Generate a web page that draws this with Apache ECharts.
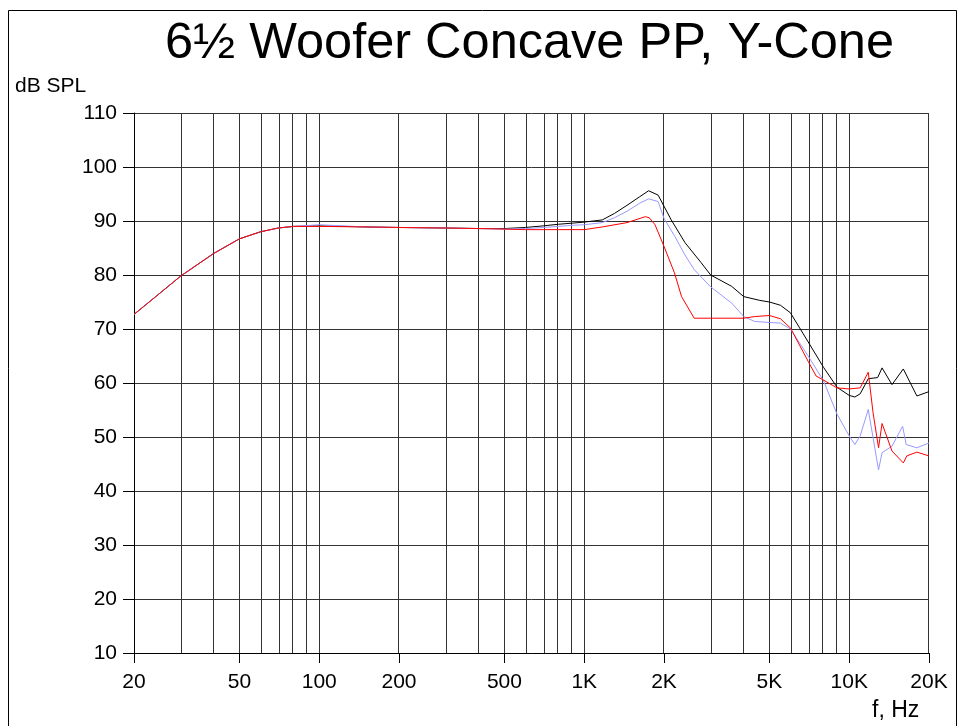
<!DOCTYPE html>
<html>
<head>
<meta charset="utf-8">
<script src="https://cdn.jsdelivr.net/npm/echarts@6/dist/echarts.min.js"></script>
<style>
  html, body { margin: 0; padding: 0; background: #fff; }
  #chart { width: 964px; height: 726px; }
</style>
</head>
<body>
<div id="chart"></div>
<script>
// frequencies in Hz, levels in dB SPL
const blackFreq = [20, 25, 30, 40, 50, 60, 70, 80, 100, 150, 200, 300, 400, 500, 600, 700, 800, 900, 1000, 1170, 1300, 1450, 1620, 1750, 1900, 2130, 2400, 2760, 3000, 3600, 4000, 4600, 5000, 5500, 6000, 6500, 7000, 8000, 9000, 10000, 10500, 11000, 11800, 12800, 13300, 14500, 16000, 18000, 20000];
const blackDb = [72.7, 76.6, 79.8, 84.0, 86.7, 88.0, 88.7, 89.0, 89.1, 88.9, 88.8, 88.7, 88.6, 88.6, 88.8, 89.1, 89.4, 89.6, 89.8, 90.2, 91.4, 92.9, 94.5, 95.6, 94.8, 90.2, 86.0, 82.3, 80.0, 77.9, 76.0, 75.3, 75.0, 74.4, 73.0, 70.2, 67.6, 62.9, 59.2, 57.7, 57.4, 58.0, 60.8, 61.0, 62.8, 59.7, 62.6, 57.6, 58.4];

const blueFreq = [20, 25, 30, 40, 50, 60, 70, 80, 100, 150, 200, 300, 400, 500, 600, 700, 800, 900, 1000, 1170, 1300, 1450, 1620, 1750, 1900, 2000, 2200, 2400, 2600, 3000, 3600, 4000, 4400, 5000, 5500, 6000, 7000, 8000, 9000, 10000, 10500, 11000, 11800, 12900, 13300, 14500, 15900, 16400, 18000, 20000];
const blueDb = [72.7, 76.6, 79.8, 84.0, 86.7, 88.0, 88.7, 89.0, 89.3, 88.9, 88.8, 88.7, 88.6, 88.5, 88.6, 88.8, 89.0, 89.2, 89.3, 89.7, 90.6, 91.8, 93.3, 94.1, 93.6, 90.5, 87.1, 83.7, 81.0, 77.8, 74.8, 72.3, 71.4, 71.2, 71.1, 70.0, 65.0, 60.4, 54.2, 50.2, 48.6, 50.2, 55.1, 43.9, 47.1, 48.3, 52.0, 48.6, 48.0, 48.9];

const redFreq = [20, 25, 30, 40, 50, 60, 70, 80, 100, 150, 200, 300, 400, 500, 600, 700, 800, 900, 1000, 1170, 1450, 1700, 1760, 1850, 2000, 2190, 2330, 2600, 3000, 4000, 4400, 5000, 5500, 6000, 7000, 7500, 9000, 10000, 11000, 11800, 12300, 12900, 13300, 14500, 16000, 16500, 18000, 20000];
const redDb = [72.7, 76.6, 79.8, 84.0, 86.7, 88.0, 88.7, 89.0, 89.0, 88.9, 88.8, 88.7, 88.6, 88.5, 88.4, 88.4, 88.4, 88.4, 88.4, 88.9, 89.7, 90.8, 90.6, 89.3, 85.3, 80.4, 76.0, 72.0, 72.0, 72.0, 72.3, 72.5, 71.9, 70.2, 64.0, 61.3, 59.1, 58.9, 59.1, 62.0, 54.5, 48.0, 52.5, 47.4, 45.2, 46.5, 47.2, 46.5];

const xLabels = [20, 50, 100, 200, 500, 1000, 2000, 5000, 10000, 20000];
const xGrid = [20, 30, 40, 50, 60, 70, 80, 90, 100, 200, 300, 400, 500, 600, 700, 800, 900,
    1000, 2000, 3000, 4000, 5000, 6000, 7000, 8000, 9000, 10000, 20000];

const lg = Math.log10;
const font = 'Liberation Sans, Arial, sans-serif';

function pairs(fs, ds) {
    return fs.map((f, i) => [lg(f), ds[i]]);
}

let chart = echarts.init(document.getElementById('chart'));
let option = {
    animation: false,
    backgroundColor: '#fff',
    title: {
        text: '6½ Woofer Concave PP, Y-Cone',
        left: 165,
        top: 19,
        padding: 0,
        textStyle: {fontFamily: font, fontSize: 50.5, fontWeight: 'normal', color: '#000'}
    },
    graphic: [
        {
            type: 'rect',
            shape: {x: 8.5, y: 10.5, width: 948, height: 740},
            style: {fill: null, stroke: '#000', lineWidth: 1},
            silent: true
        },
        {
            type: 'text', left: 15, top: 76,
            style: {text: 'dB SPL', font: '21px ' + font, fill: '#000'}
        },
        {
            type: 'text', left: 872, top: 699,
            style: {text: 'f, Hz', font: '23px ' + font, fill: '#000'}
        }
    ],
    grid: {left: 134, right: 35, top: 113, bottom: 73},
    xAxis: {
        type: 'value',
        min: lg(20),
        max: lg(20000),
        axisLine: {lineStyle: {color: '#000', width: 1}},
        axisTick: {
            show: true,
            length: 10,
            customValues: xLabels.map(lg),
            lineStyle: {color: '#000'}
        },
        axisLabel: {
            customValues: xLabels.map(lg),
            margin: 19,
            fontFamily: font,
            fontSize: 21,
            color: '#000',
            formatter: function (v) {
                let f = Math.round(Math.pow(10, v));
                return f >= 1000 ? (f / 1000) + 'K' : '' + f;
            }
        },
        splitLine: {show: false}
    },
    yAxis: {
        type: 'value',
        min: 10,
        max: 110,
        interval: 10,
        axisLine: {show: true, lineStyle: {color: '#000'}},
        axisTick: {show: true, length: 11, lineStyle: {color: '#000'}},
        axisLabel: {margin: 17, fontFamily: font, fontSize: 21, color: '#000'},
        splitLine: {show: true, lineStyle: {color: '#333', width: 1}}
    },
    series: [
        {
            name: 'grid',
            type: 'line',
            data: [],
            silent: true,
            markLine: {
                silent: true,
                symbol: 'none',
                z: 1,
                label: {show: false},
                lineStyle: {color: '#333', width: 1, type: 'solid'},
                data: xGrid.map(f => ({xAxis: lg(f)}))
            }
        },
        {
            name: 'black',
            type: 'line',
            showSymbol: false,
            z: 3,
            lineStyle: {color: '#000', width: 1},
            data: pairs(blackFreq, blackDb)
        },
        {
            name: 'blue',
            type: 'line',
            showSymbol: false,
            z: 4,
            lineStyle: {color: '#9999ff', width: 1},
            data: pairs(blueFreq, blueDb)
        },
        {
            name: 'red',
            type: 'line',
            showSymbol: false,
            z: 5,
            lineStyle: {color: '#ff0000', width: 1},
            data: pairs(redFreq, redDb)
        }
    ]
};
chart.setOption(option);
</script>
</body>
</html>
